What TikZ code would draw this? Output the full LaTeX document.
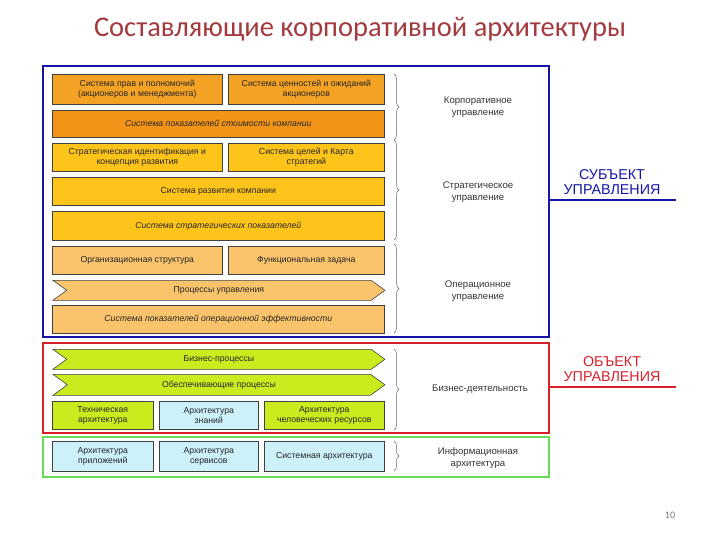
\documentclass[tikz,border=0pt]{standalone}
\usepackage{fontspec}
\setmainfont{Liberation Sans}
\newfontfamily\titlefont{Carlito}
\usetikzlibrary{shapes.symbols,decorations.pathreplacing}
\definecolor{ttl}{HTML}{A23A3E}
\definecolor{orA}{HTML}{F4A223}
\definecolor{orB}{HTML}{F29418}
\definecolor{gold}{HTML}{FFC41A}
\definecolor{lor}{HTML}{F9C46C}
\definecolor{ygr}{HTML}{CCEB1E}
\definecolor{cyn}{HTML}{CDF1F8}
\definecolor{fblue}{HTML}{1414A8}
\definecolor{fred}{HTML}{D8202A}
\definecolor{fgreen}{HTML}{66DD55}
\definecolor{lbl}{HTML}{333333}
\tikzset{
  box/.style={draw=black!75, line width=0.6pt, anchor=north west, inner sep=1pt,
    align=center, font=\fontsize{8.7}{10}\selectfont, text=black!85},
  chev/.style={box, shape=signal, signal to=east, signal from=west, signal pointer angle=72},
  frame/.style={draw, line width=2pt, anchor=north west, inner sep=0pt},
  grp/.style={align=center, font=\fontsize{9.6}{11.5}\selectfont, text=lbl},
  brc/.style={draw=black!60, line width=0.5pt, decorate, decoration={brace, amplitude=5pt}},
  big/.style={align=center, font=\fontsize{14.3}{15.5}\selectfont}
}
\begin{document}
\begin{tikzpicture}[x=1pt,y=-1pt]
\useasboundingbox (0,0) rectangle (720,540);
\node[font=\titlefont\fontsize{28.5}{30}\selectfont, text=ttl] (title) at (360,29) {Составляющие корпоративной архитектуры};

% frames
\node[frame, draw=fblue, minimum width=506, minimum height=271] (fb) at (42,65) {};
\node[frame, draw=fred, minimum width=506, minimum height=90] (fr) at (42,342) {};
\node[frame, draw=fgreen, minimum width=506, minimum height=40] (fg) at (42,436) {};

% rows
\node[box, fill=orA, minimum width=170, minimum height=30] (r1a) at (52,74) {Система прав и полномочий\\(акционеров и менеджмента)};
\node[box, fill=orA, minimum width=156, minimum height=30] (r1b) at (228,74) {Система ценностей и ожиданий\\акционеров};
\node[box, fill=orB, minimum width=332, minimum height=27] (r2) at (52,110) {\itshape Система показателей стоимости компании};
\node[box, fill=gold, minimum width=170, minimum height=28] (r3a) at (52,143) {Стратегическая идентификация и\\концепция развития};
\node[box, fill=gold, minimum width=156, minimum height=28] (r3b) at (228,143) {Система целей и Карта\\стратегий};
\node[box, fill=gold, minimum width=332, minimum height=28] (r4) at (52,177) {Система развития компании};
\node[box, fill=gold, minimum width=332, minimum height=29] (r5) at (52,211) {\itshape Система стратегических показателей};
\node[box, fill=lor, minimum width=170, minimum height=28] (r6a) at (52,246) {Организационная структура};
\node[box, fill=lor, minimum width=156, minimum height=28] (r6b) at (228,246) {Функциональная задача};
\node[chev, fill=lor, minimum width=332, minimum height=20] (r7) at (52,280) {Процессы управления};
\node[box, fill=lor, minimum width=332, minimum height=28] (r8) at (52,305) {\itshape Система показателей операционной эффективности};

\node[chev, fill=ygr, minimum width=332, minimum height=20] (r9) at (52,349) {Бизнес-процессы};
\node[chev, fill=ygr, minimum width=332, minimum height=21] (r10) at (52,374) {Обеспечивающие процессы};
\node[box, fill=ygr, minimum width=101, minimum height=28] (r11a) at (52,401) {Техническая\\архитектура};
\node[box, fill=cyn, minimum width=99, minimum height=28] (r11b) at (159,401) {Архитектура\\знаний};
\node[box, fill=ygr, minimum width=120, minimum height=28] (r11c) at (264,401) {Архитектура\\человеческих ресурсов};

\node[box, fill=cyn, minimum width=101, minimum height=30] (r12a) at (52,441) {Архитектура\\приложений};
\node[box, fill=cyn, minimum width=99, minimum height=30] (r12b) at (159,441) {Архитектура\\сервисов};
\node[box, fill=cyn, minimum width=120, minimum height=30] (r12c) at (264,441) {Системная архитектура};

% braces
\coordinate (b1t) at (394,74); \coordinate (b1b) at (394,140);
\coordinate (b2t) at (394,140); \coordinate (b2b) at (394,240);
\coordinate (b3t) at (394,244); \coordinate (b3b) at (394,333);
\coordinate (b4t) at (394,349); \coordinate (b4b) at (394,430);
\coordinate (b5t) at (394,441); \coordinate (b5b) at (394,471);
\draw[brc] (b1t) -- (b1b);
\draw[brc] (b2t) -- (b2b);
\draw[brc] (b3t) -- (b3b);
\draw[brc] (b4t) -- (b4b);
\draw[brc] (b5t) -- (b5b);

\node[grp] (g1) at (478,107) {Корпоративное\\управление};
\node[grp] (g2) at (478,192) {Стратегическое\\управление};
\node[grp] (g3) at (478,291) {Операционное\\управление};
\node[grp] (g4) at (480,389) {Бизнес-деятельность};
\node[grp] (g5) at (478,458) {Информационная\\архитектура};

% subject / object
\coordinate (sE) at (676,200);
\coordinate (oE) at (676,387);
\draw[fblue, line width=2pt] (fb.east |- sE) -- (sE);
\draw[fred, line width=2pt] (fr.east |- oE) -- (oE);
\node[big, text=fblue] (subj) at (612,182) {СУБЪЕКТ\\УПРАВЛЕНИЯ};
\node[big, text=fred] (obj) at (612,369) {ОБЪЕКТ\\УПРАВЛЕНИЯ};

\node[font=\titlefont\fontsize{10}{12}\selectfont, text=black!55] (pg) at (670,515) {10};
\end{tikzpicture}
\end{document}
